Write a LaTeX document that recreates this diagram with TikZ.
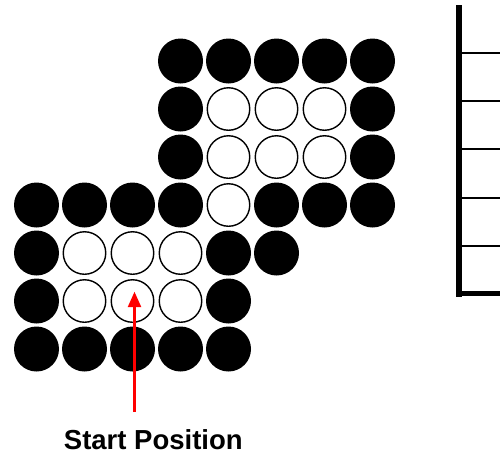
\documentclass[tikz,border=0pt]{standalone}
\usepackage{fontspec}
\setmainfont{Liberation Sans}
\usetikzlibrary{arrows.meta}
\begin{document}
\begin{tikzpicture}[x=1pt,y=-1pt,
  blk/.style={circle,fill=black,inner sep=0pt,minimum size=45pt},
  wht/.style={circle,draw=black,fill=white,line width=1.4pt,inner sep=0pt,minimum size=42.5pt},
  redarrow/.style={draw=red,line width=2.6pt,-{Triangle[width=13pt,length=15.5pt]}},
  rung/.style={line width=2pt},
  lbl/.style={font=\fontsize{27.5}{33}\selectfont\bfseries,anchor=base,inner sep=0pt}]
\useasboundingbox (0,0) rectangle (500,453);
% row 0
\foreach \c in {3,...,7} {\node[blk] (c0\c) at (36.5+48*\c,61) {};}
% rows 1,2
\foreach \r in {1,2} {
  \node[blk] (c\r3) at (36.5+48*3,61+48*\r) {};
  \foreach \c in {4,5,6} {\node[wht] (c\r\c) at (36.5+48*\c,61+48*\r) {};}
  \node[blk] (c\r7) at (36.5+48*7,61+48*\r) {};
}
% row 3
\foreach \c in {0,1,2,3,5,6,7} {\node[blk] (c3\c) at (36.5+48*\c,205) {};}
\node[wht] (c34) at (36.5+48*4,205) {};
% row 4
\node[blk] (c40) at (36.5,253) {};
\foreach \c in {1,2,3} {\node[wht] (c4\c) at (36.5+48*\c,253) {};}
\foreach \c in {4,5} {\node[blk] (c4\c) at (36.5+48*\c,253) {};}
% row 5
\node[blk] (c50) at (36.5,301) {};
\foreach \c in {1,2,3} {\node[wht] (c5\c) at (36.5+48*\c,301) {};}
\node[blk] (c54) at (36.5+48*4,301) {};
% row 6
\foreach \c in {0,...,4} {\node[blk] (c6\c) at (36.5+48*\c,349) {};}
% arrow and label
\coordinate (tail) at (134.5,412);
\coordinate (tip) at (134.5,291.7);
\draw[redarrow] (tail) -- (tip);
\node[lbl] (start) at (153.3,449) {Start Position};
% ladder
\draw[line width=6pt] (459,5.3) -- (459,296.7);
\foreach \y in {53,100.7,149,197.7,245.7} {\draw[rung] (462,\y) -- (500,\y);}
\draw[line width=5pt] (462,293.7) -- (500,293.7);
\end{tikzpicture}
\end{document}
